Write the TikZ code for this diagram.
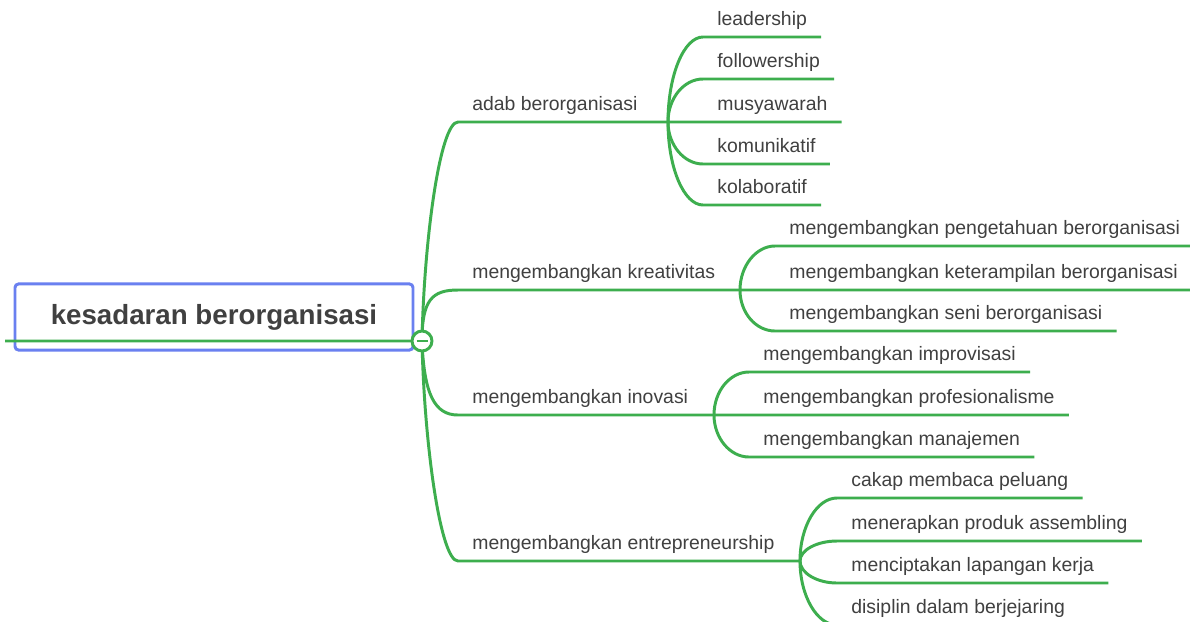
\documentclass[tikz,border=0pt]{standalone}
\usepackage{fontspec}
\setmainfont{Liberation Sans}
\definecolor{Hijau}{HTML}{3DAE4E}
\definecolor{Biru}{HTML}{6A80F0}
\definecolor{Teks}{HTML}{404040}

\begin{document}
\begin{tikzpicture}[x=0.025cm,y=-0.025cm,
  garis/.style={draw=Hijau,line width=2.1pt},
  topik/.style={anchor=south west,inner xsep=10pt,inner ysep=7.8pt,text depth=0pt,
    text=Teks,font=\fontsize{13.8}{16}\selectfont},
  akar/.style={draw=Biru,line width=2.1pt,rounded corners=2.5pt,fill=white,
    minimum width=283pt,minimum height=47pt,inner sep=0pt,text=Teks,
    font=\fontsize{19.7}{23}\selectfont\bfseries},
  simpul/.style={circle,draw=Hijau,line width=2.1pt,fill=white,minimum size=14.2pt,inner sep=0pt}]
  \path[fill=white,use as bounding box] (0,0) rectangle (1190,621);

  % Topik utama.
  \node[akar] (akar) at (214,317) {kesadaran berorganisasi};
  \coordinate (ujung) at (5,341);
  \coordinate (pusat) at (422,341);

  % Cabang pertama: adab berorganisasi.
  \node[topik] (adab) at (458,122) {adab berorganisasi};
  \coordinate (fAdab) at (668,122);
  \node[topik] (lead) at (703,37) {leadership};
  \node[topik] (follow) at (703,79) {followership};
  \node[topik] (musy) at (703,122) {musyawarah};
  \node[topik] (komu) at (703,164) {komunikatif};
  \node[topik] (kola) at (703,205) {kolaboratif};
  \draw[garis] (ujung) -- (pusat) .. controls (424,240) and (440,122) .. (adab.south west)
    -- (fAdab) -- (musy.south east);
  \draw[garis] (fAdab) .. controls (668,75) and (684,37) .. (lead.south west) -- (lead.south east);
  \draw[garis] (fAdab) .. controls (668,98) and (684,79) .. (follow.south west) -- (follow.south east);
  \draw[garis] (fAdab) .. controls (668,145) and (684,164) .. (komu.south west) -- (komu.south east);
  \draw[garis] (fAdab) .. controls (668,168) and (684,205) .. (kola.south west) -- (kola.south east);

  % Cabang kedua: kreativitas.
  \node[topik] (kreat) at (458,290) {mengembangkan kreativitas};
  \coordinate (fKreat) at (740,290);
  \node[topik] (tahu) at (775,246) {mengembangkan pengetahuan berorganisasi};
  \node[topik] (terampil) at (775,290) {mengembangkan keterampilan berorganisasi};
  \node[topik] (seni) at (775,331) {mengembangkan seni berorganisasi};
  \draw[garis] (pusat) .. controls (422,300) and (432,290) .. (kreat.south west)
    -- (fKreat) -- (terampil.south east);
  \draw[garis] (fKreat) .. controls (740,266) and (756,246) .. (tahu.south west) -- (tahu.south east);
  \draw[garis] (fKreat) .. controls (740,313) and (756,331) .. (seni.south west) -- (seni.south east);

  % Cabang ketiga: inovasi.
  \node[topik] (inov) at (458,415) {mengembangkan inovasi};
  \coordinate (fInov) at (714,415);
  \node[topik] (improv) at (749,372) {mengembangkan improvisasi};
  \node[topik] (profesi) at (749,415) {mengembangkan profesionalisme};
  \node[topik] (manaj) at (749,457) {mengembangkan manajemen};
  \draw[garis] (pusat) .. controls (424,395) and (435,415) .. (inov.south west)
    -- (fInov) -- (profesi.south east);
  \draw[garis] (fInov) .. controls (714,391) and (730,372) .. (improv.south west) -- (improv.south east);
  \draw[garis] (fInov) .. controls (714,438) and (730,457) .. (manaj.south west) -- (manaj.south east);

  % Cabang keempat: entrepreneurship.
  \node[topik] (entre) at (458,561) {mengembangkan entrepreneurship};
  \coordinate (fEntre) at (800,561);
  \node[topik] (cakap) at (837,498) {cakap membaca peluang};
  \node[topik] (terap) at (837,541) {menerapkan produk assembling};
  \node[topik] (cipta) at (837,583) {menciptakan lapangan kerja};
  \node[topik] (disiplin) at (837,625) {disiplin dalam berjejaring};
  \draw[garis] (pusat) .. controls (424,440) and (440,561) .. (entre.south west) -- (fEntre);
  \draw[garis] (fEntre) .. controls (800,526) and (817,498) .. (cakap.south west) -- (cakap.south east);
  \draw[garis] (fEntre) .. controls (800,550) and (817,541) .. (terap.south west) -- (terap.south east);
  \draw[garis] (fEntre) .. controls (800,573) and (817,583) .. (cipta.south west) -- (cipta.south east);
  \draw[garis] (fEntre) .. controls (800,596) and (817,625) .. (disiplin.south west) -- (disiplin.south east);

  % Simpul pusat dengan tanda minus.
  \node[simpul] (hub) at (pusat) {};
  \draw[garis] (hub.center) ++(-5.5,0) -- ++(11,0);
\end{tikzpicture}
\end{document}
